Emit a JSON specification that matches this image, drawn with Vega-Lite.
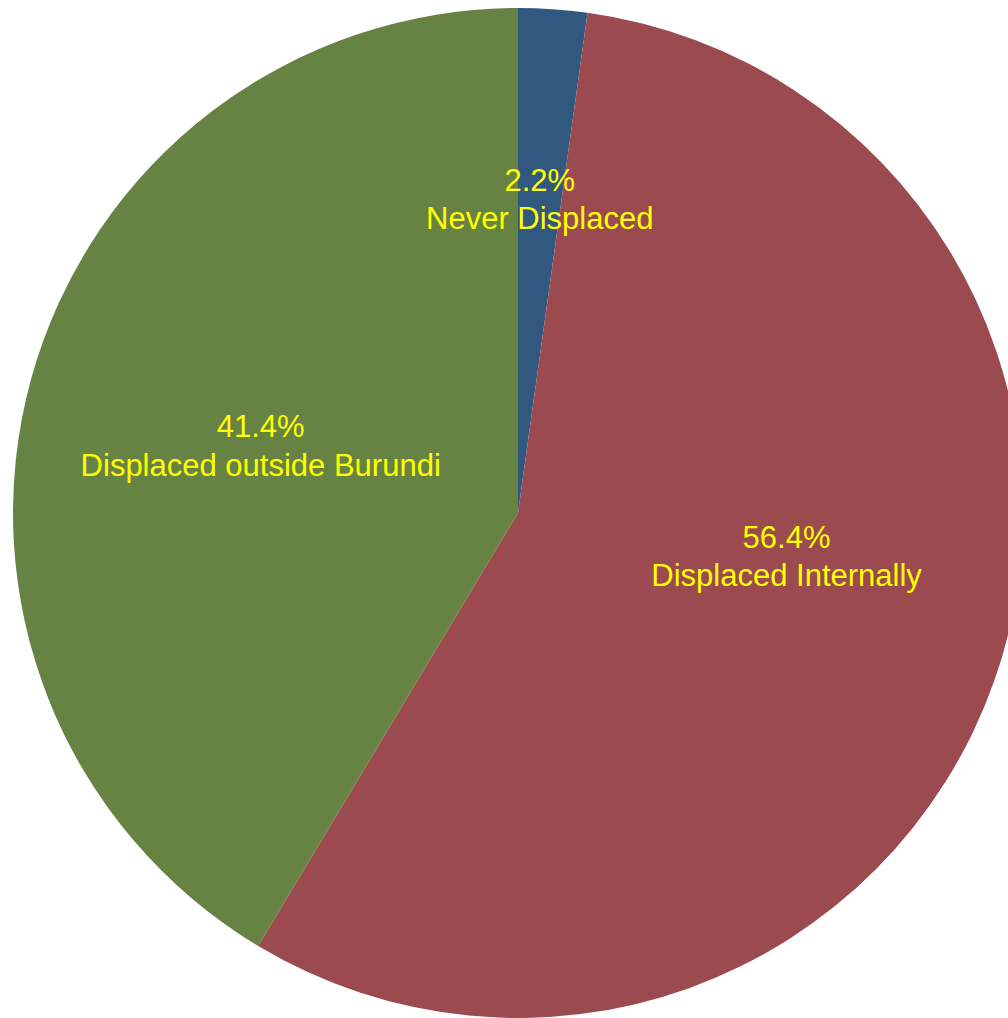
{
  "$schema": "https://vega.github.io/schema/vega-lite/v6.json",
  "width": 1010,
  "height": 1010,
  "autosize": {"type": "none"},
  "padding": {"left": 13, "top": 8, "right": 0, "bottom": 0},
  "background": "white",
  "config": {"view": {"stroke": null}},
  "data": {
    "values": [
      {"category": "Never Displaced", "pct": 2.2, "rank": 1, "label": "2.2%\nNever Displaced"},
      {"category": "Displaced Internally", "pct": 56.4, "rank": 2, "label": "56.4%\nDisplaced Internally"},
      {"category": "Displaced outside Burundi", "pct": 41.4, "rank": 3, "label": "41.4%\nDisplaced outside Burundi"}
    ]
  },
  "encoding": {
    "theta": {"field": "pct", "type": "quantitative", "stack": true},
    "order": {"field": "rank", "type": "quantitative"}
  },
  "layer": [
    {
      "mark": {"type": "arc"},
      "encoding": {
        "color": {
          "field": "category",
          "type": "nominal",
          "scale": {
            "domain": ["Never Displaced", "Displaced Internally", "Displaced outside Burundi"],
            "range": ["#31587F", "#9B4A50", "#678344"]
          },
          "legend": null
        }
      }
    },
    {
      "mark": {"type": "text", "radius": 315, "dy": -17, "fontSize": 31, "font": "Liberation Sans", "fill": "#FFFF00", "lineBreak": "\n", "lineHeight": 38, "baseline": "middle", "align": "center"},
      "encoding": {
        "text": {"condition": {"test": "datum.category === 'Never Displaced'", "field": "label"}, "value": ""}
      }
    },
    {
      "mark": {"type": "text", "radius": 272, "dy": -17, "thetaOffset": -0.18, "fontSize": 31, "font": "Liberation Sans", "fill": "#FFFF00", "lineBreak": "\n", "lineHeight": 38, "baseline": "middle", "align": "center"},
      "encoding": {
        "text": {"condition": {"test": "datum.category === 'Displaced Internally'", "field": "label"}, "value": ""}
      }
    },
    {
      "mark": {"type": "text", "radius": 267, "dy": -14, "fontSize": 31, "font": "Liberation Sans", "fill": "#FFFF00", "lineBreak": "\n", "lineHeight": 39, "baseline": "middle", "align": "center"},
      "encoding": {
        "text": {"condition": {"test": "datum.category === 'Displaced outside Burundi'", "field": "label"}, "value": ""}
      }
    }
  ]
}
